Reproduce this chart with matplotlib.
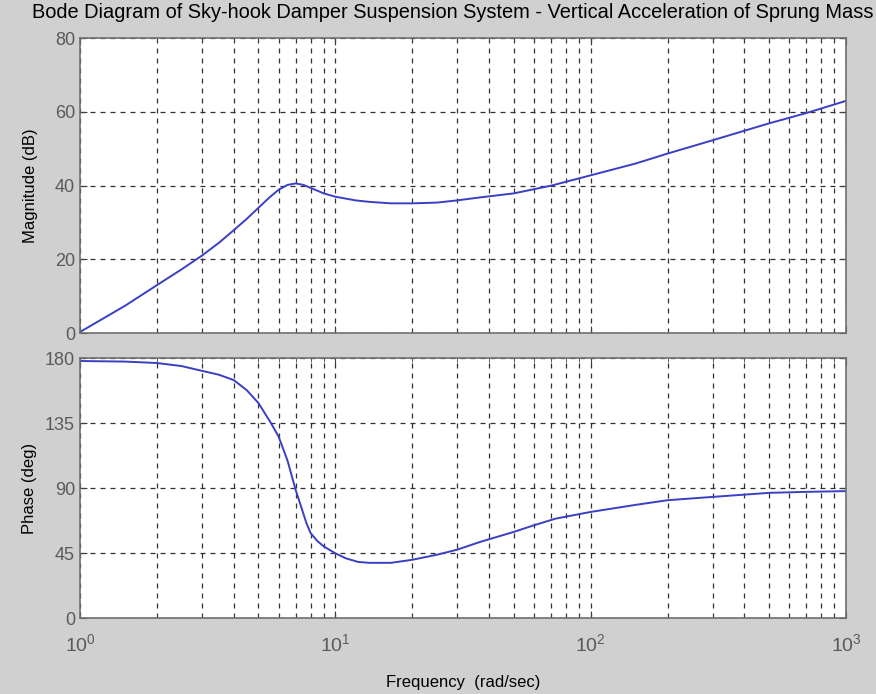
import numpy as np
import matplotlib
matplotlib.use('Agg')
import matplotlib.pyplot as plt
from matplotlib.ticker import LogLocator, FixedLocator, NullFormatter

plt.rc('font', family='Liberation Sans', size=12)
matplotlib.rcParams['mathtext.fontset'] = 'custom'
matplotlib.rcParams['mathtext.rm'] = 'Liberation Sans'
matplotlib.rcParams['mathtext.it'] = 'Liberation Sans'

# values
mag_freq = [1.0, 1.5, 2.0, 2.5, 3.0, 3.5, 4.0, 4.5, 5.0, 5.5, 6.0, 6.5, 7.0,
            7.5, 8.0, 9.0, 10.0, 12.0, 13.6, 16.5, 20.0, 25.0, 30.0, 36.8,
            50.0, 70.0, 100.0, 150.0, 200.0, 300.0, 500.0, 700.0, 1000.0]
mag_db = [0.3, 7.4, 13.0, 17.3, 21.0, 24.5, 27.9, 31.0, 34.0, 36.7, 38.9,
          40.2, 40.6, 40.2, 39.4, 37.9, 37.0, 36.0, 35.6, 35.2, 35.2, 35.4,
          36.0, 36.8, 37.9, 40.0, 42.8, 46.0, 48.7, 52.3, 56.9, 59.7, 63.0]

ph_freq = [1.0, 1.5, 2.0, 2.5, 2.95, 3.5, 4.0, 4.5, 5.0, 5.6, 6.0, 6.5, 7.0,
           7.4, 7.7, 8.0, 8.5, 9.0, 10.0, 11.0, 12.3, 13.6, 16.5, 20.0, 25.0,
           30.0, 36.8, 50.0, 60.0, 73.0, 100.0, 150.0, 200.0, 300.0, 500.0,
           700.0, 1000.0]
phase_deg = [178.0, 177.6, 176.6, 174.5, 171.5, 168.5, 164.8, 157.8, 148.9,
             135.0, 125.6, 109.0, 88.6, 75.5, 66.0, 59.0, 53.5, 49.8, 45.0,
             41.5, 39.0, 38.4, 38.4, 40.5, 44.0, 47.5, 52.8, 59.8, 64.4, 69.0,
             73.6, 78.5, 81.7, 84.0, 86.8, 87.5, 88.0]

bg = '#d0d0d0'
line_c = '#3a3fc4'
tick_c = '#5a5a5a'

fig = plt.figure(figsize=(8.76, 6.94), dpi=100, facecolor=bg)
ax1 = fig.add_axes([0.0913, 0.520, 0.8745, 0.425])
ax2 = fig.add_axes([0.0913, 0.109, 0.8745, 0.375])

for ax in (ax1, ax2):
    ax.set_facecolor('white')
    ax.set_xscale('log')
    ax.set_xlim(1, 1000)
    ax.xaxis.set_major_locator(LogLocator(base=10, numticks=10))
    ax.xaxis.set_minor_locator(LogLocator(base=10, subs=np.arange(2, 10), numticks=10))
    ax.xaxis.set_minor_formatter(NullFormatter())
    ax.grid(True, which='both', axis='x', ls=(0, (4, 4)), color='#303030', lw=0.9)
    ax.grid(True, which='major', axis='y', ls=(0, (4, 4)), color='#303030', lw=0.9)
    ax.tick_params(which='both', direction='in', top=True, right=True,
                   colors='#404040', labelcolor=tick_c, labelsize=13)
    ax.tick_params(which='major', length=5)
    ax.tick_params(which='minor', length=3)
    for s in ax.spines.values():
        s.set_color('#707070')
        s.set_linewidth(1.2)

ax1.plot(mag_freq, mag_db, color=line_c, lw=1.4)
ax1.set_ylim(0, 80)
ax1.yaxis.set_major_locator(FixedLocator([0, 20, 40, 60, 80]))
ax1.tick_params(axis='x', which='both', labelbottom=False)
ax1.set_ylabel('Magnitude (dB)', fontsize=12, labelpad=12)
fig.text(32 / 876, 1 - 13 / 694,
         'Bode Diagram of Sky-hook Damper Suspension System - Vertical Acceleration of Sprung Mass',
         fontsize=14.4, ha='left', va='center')

ax2.plot(ph_freq, phase_deg, color=line_c, lw=1.4)
ax2.set_ylim(0, 180)
ax2.yaxis.set_major_locator(FixedLocator([0, 45, 90, 135, 180]))
ax2.set_ylabel('Phase (deg)', fontsize=12, labelpad=6)
ax2.set_xlabel('Frequency  (rad/sec)', fontsize=12, labelpad=14)
ax2.tick_params(axis='x', which='major', pad=11, labelsize=14)

fig.savefig('out.png', dpi=100, facecolor=bg)
